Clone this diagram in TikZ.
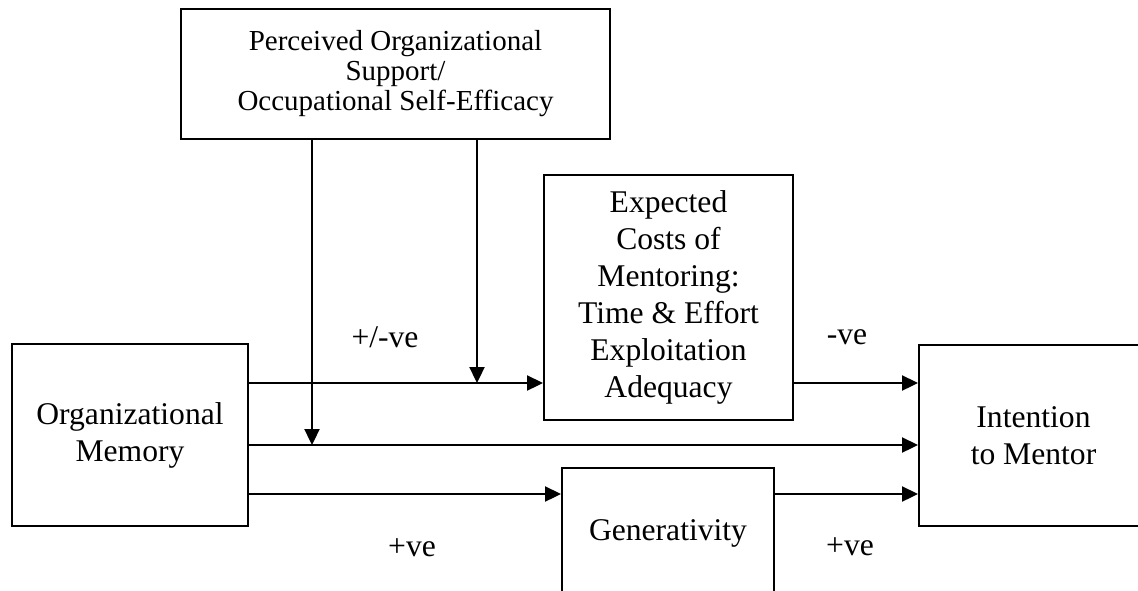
\documentclass[tikz,border=0pt]{standalone}
\usepackage{fontspec}
\setmainfont{Liberation Serif}
\usetikzlibrary{arrows.meta}
\begin{document}
\begin{tikzpicture}[x=1pt,y=-1pt,
  box/.style={draw,line width=2pt,inner sep=0pt,align=center,
    font=\fontsize{31.6}{37}\selectfont},
  lbl/.style={font=\fontsize{31.6}{37}\selectfont,inner sep=0pt},
  arr/.style={line width=2.3pt,-{Triangle[length=16pt,width=15pt]}}]
\useasboundingbox (0,0) rectangle (1138,590);
\fill[white] (0,0) rectangle (1138,590);

% boxes
\node[box,minimum width=429pt,minimum height=130pt,
  font=\fontsize{29}{30}\selectfont] (pos) at (395.5,74)
  {Perceived Organizational\\Support/\\Occupational Self-Efficacy};
\node[box,minimum width=249pt,minimum height=245pt] (cost) at (668.5,297.5)
  {Expected\\Costs of\\Mentoring:\\Time \& Effort\\Exploitation\\Adequacy};
\node[box,minimum width=236pt,minimum height=182pt] (om) at (130,435)
  {Organizational\\Memory};
\node[box,minimum width=229pt,minimum height=181pt] (itm) at (1033.5,435.5)
  {Intention\\to Mentor};
\node[box,minimum width=212pt,minimum height=130pt] (gen) at (668,533)
  {Generativity};

% outgoing points on the right side of Organizational Memory
\coordinate (a1) at ([yshift=52pt]om.east);
\coordinate (a2) at ([yshift=-10pt]om.east);
\coordinate (a3) at ([yshift=-59pt]om.east);

% direct paths
\draw[arr] (a1) -- (a1 -| cost.west);
\draw[arr] (a2) -- (a2 -| itm.west);
\draw[arr] (a3) -- (a3 -| gen.west);
\draw[arr] (a1 -| cost.east) -- (a1 -| itm.west);
\draw[arr] (a3 -| gen.east) -- (a3 -| itm.west);

% moderating paths from the top box
\coordinate (m1) at ([xshift=-83.5pt]pos.south);
\coordinate (m2) at ([xshift=81.5pt]pos.south);
\draw[arr] (m1) -- (m1 |- a2);
\draw[arr] (m2) -- (m2 |- a1);

% path signs
\node[lbl] (l1) at (385,337) {+/-ve};
\node[lbl] (l2) at (847,337) {-ve};
\node[lbl] (l3) at (412,548) {+ve};
\node[lbl] (l4) at (850,547) {+ve};
\end{tikzpicture}
\end{document}
